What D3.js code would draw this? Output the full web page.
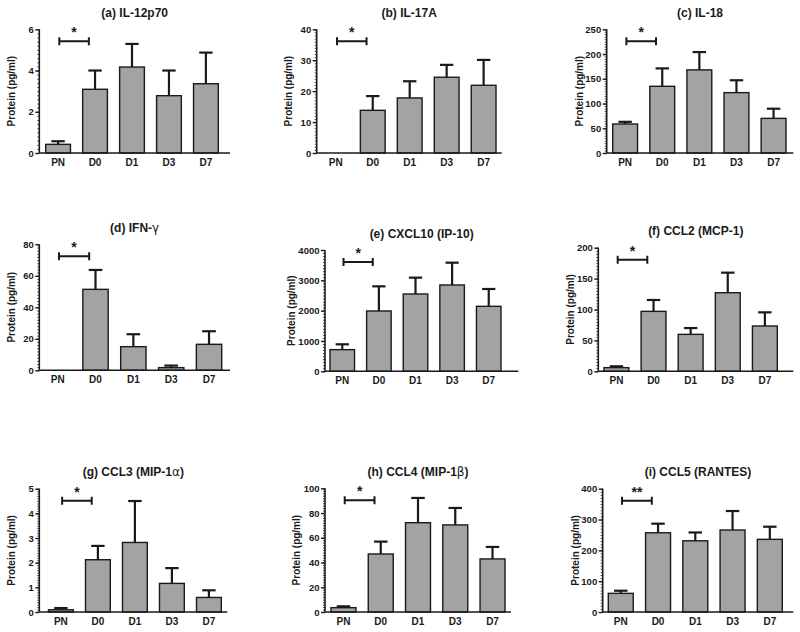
<!DOCTYPE html>
<html>
<head>
<meta charset="utf-8">
<script src="https://cdn.jsdelivr.net/npm/d3@7"></script>
<style>
  html, body { margin: 0; padding: 0; background: #fff; }
  svg { display: block; font-family: "Liberation Sans", Arial, sans-serif; }
</style>
</head>
<body>
<svg id="chart" width="800" height="632"></svg>
<script>
// ---- data ----
const categories = ["PN", "D0", "D1", "D3", "D7"];
const titles = ["(a) IL-12p70", "(b) IL-17A", "(c) IL-18",
                "(d) IFN-γ", "(e) CXCL10 (IP-10)", "(f) CCL2 (MCP-1)",
                "(g) CCL3 (MIP-1α)", "(h) CCL4 (MIP-1β)", "(i) CCL5 (RANTES)"];
const yLabel = "Protein (pg/ml)";

const meansA = [0.42, 3.09, 4.17, 2.78, 3.36];
const semA   = [0.15, 0.91, 1.12, 1.22, 1.51];
const meansB = [0, 13.8, 17.8, 24.5, 21.9];
const semB   = [0, 4.6, 5.4, 4.0, 8.2];
const meansC = [58.6, 134.8, 168, 122, 70];
const semC   = [4.4, 36.2, 36, 25, 19.5];
const meansD = [0, 51.4, 15, 1.7, 16.5];
const semD   = [0, 12.3, 7.9, 1.3, 8.3];
const meansE = [714, 1989, 2549, 2846, 2143];
const semE   = [176, 813, 539, 736, 571];
const meansF = [5.9, 97, 59.8, 127.2, 73.3];
const semF   = [2.2, 18.4, 10.2, 32.4, 22.1];
const meansG = [0.09, 2.12, 2.82, 1.16, 0.59];
const semG   = [0.07, 0.56, 1.68, 0.62, 0.29];
const meansH = [3.5, 46.9, 72.2, 70.4, 42.9];
const semH   = [1.1, 10, 20, 13.7, 9.7];
const meansI = [60.5, 257, 231, 266, 235.7];
const semI   = [8.5, 29.5, 27, 61.6, 41];

const yMax   = [6, 40, 250, 80, 4000, 200, 5, 100, 400];
const yStep  = [2, 10, 50, 20, 1000, 50, 1, 20, 100];
const signif = ["*", "*", "*", "*", "*", "*", "*", "*", "**"];

const allMeans = [meansA, meansB, meansC, meansD, meansE, meansF, meansG, meansH, meansI];
const allSem   = [semA, semB, semC, semD, semE, semF, semG, semH, semI];

// ---- layout (pixel boxes per panel) ----
const layout = [
  {x0: 39.3,  x1: 230,   bs: 45.7,  be: 218.3, yTop: 29.3,  y0: 153,   lab: 28},
  {x0: 316.7, x1: 501.7, bs: 323.4, be: 496,   yTop: 29.3,  y0: 153,   lab: 28.4},
  {x0: 606.7, x1: 793.3, bs: 612.7, be: 786,   yTop: 29.3,  y0: 153,   lab: 27.5},
  {x0: 39.3,  x1: 230,   bs: 45,    be: 221.7, yTop: 244.3, y0: 370.3, lab: 28},
  {x0: 325,   x1: 518.3, bs: 330,   be: 501,   yTop: 250,   y0: 371.3, lab: 33.5},
  {x0: 598.3, x1: 793.3, bs: 604,   be: 777.3, yTop: 247.7, y0: 371.3, lab: 28.3},
  {x0: 39.3,  x1: 227.3, bs: 48.5,  be: 221.3, yTop: 488.7, y0: 612,   lab: 28},
  {x0: 325,   x1: 511,   bs: 331,   be: 505,   yTop: 488.3, y0: 612,   lab: 28.3},
  {x0: 602.7, x1: 793.3, bs: 608.3, be: 782.3, yTop: 488.7, y0: 612,   lab: 27.7}
];

const svg = d3.select("#chart");
const barFill = "#a3a3a3";
const ink = "#1a1a1a";

function addTitle(g, text, x, y) {
  const t = g.append("text").attr("x", x).attr("y", y)
    .attr("text-anchor", "middle").attr("font-size", 12).attr("font-weight", "bold").attr("fill", ink);
  const parts = text.split(/([α-ω])/);
  parts.forEach(p => {
    if (!p) return;
    const s = t.append("tspan").text(p);
    if (/^[α-ω]$/.test(p)) s.attr("font-weight", "normal").attr("font-family", "DejaVu Sans, sans-serif").attr("font-size", 12);
  });
}

allMeans.forEach((means, i) => {
  const L = layout[i];
  const sem = allSem[i];
  const g = svg.append("g");

  const x = d3.scaleBand().domain(categories).range([L.bs, L.be]).paddingInner(0.33).paddingOuter(0);
  const y = d3.scaleLinear().domain([0, yMax[i]]).range([L.y0, L.yTop]);
  const bw = x.bandwidth();

  // bars
  categories.forEach((c, k) => {
    if (means[k] <= 0) return;
    g.append("rect")
      .attr("x", x(c)).attr("y", y(means[k]))
      .attr("width", bw).attr("height", y(0) - y(means[k]))
      .attr("fill", barFill).attr("stroke", ink).attr("stroke-width", 1.4);
    if (sem[k] > 0) {
      const cx = x(c) + bw / 2;
      const top = y(means[k] + sem[k]);
      g.append("line").attr("x1", cx).attr("x2", cx)
        .attr("y1", y(means[k])).attr("y2", top)
        .attr("stroke", ink).attr("stroke-width", 2.2);
      g.append("line").attr("x1", cx - bw * 0.27).attr("x2", cx + bw * 0.27)
        .attr("y1", top).attr("y2", top)
        .attr("stroke", ink).attr("stroke-width", 2.2);
    }
  });

  // y axis: minor ticks
  const minorVals = d3.range(0, yMax[i] + 1e-9, yStep[i] / 10);
  const majorVals = d3.range(0, yMax[i] + 1e-9, yStep[i]);
  const minorAx = g.append("g").attr("transform", `translate(${L.x0},0)`)
    .call(d3.axisLeft(y).tickValues(minorVals).tickSize(2).tickFormat(""));
  minorAx.select(".domain").remove();
  minorAx.selectAll("line").attr("stroke", ink).attr("stroke-width", 0.8);

  const majorAx = g.append("g").attr("transform", `translate(${L.x0},0)`)
    .call(d3.axisLeft(y).tickValues(majorVals).tickSize(4).tickPadding(1.5).tickFormat(d3.format("d")));
  majorAx.select(".domain").attr("stroke", ink).attr("stroke-width", 1.6)
    .attr("d", `M0,${L.yTop}V${L.y0}`);
  majorAx.selectAll("line").attr("stroke", ink).attr("stroke-width", 1.4);
  majorAx.selectAll("text").attr("font-size", 9.5).attr("font-weight", "bold")
    .attr("fill", ink).attr("font-family", "Liberation Sans, Arial, sans-serif");

  // x axis
  const xAx = g.append("g").attr("transform", `translate(0,${L.y0})`)
    .call(d3.axisBottom(x).tickSize(0).tickPadding(6));
  xAx.select(".domain").attr("stroke", ink).attr("stroke-width", 1.6)
    .attr("d", `M${L.x0},0H${L.x1}`);
  xAx.selectAll("text").attr("font-size", 10).attr("font-weight", "bold")
    .attr("fill", ink).attr("font-family", "Liberation Sans, Arial, sans-serif");

  // y label
  g.append("text")
    .attr("transform", `translate(${L.x0 - L.lab},${(L.yTop + L.y0) / 2}) rotate(-90)`)
    .attr("dy", "0.35em").attr("text-anchor", "middle")
    .attr("font-size", 10).attr("font-weight", "bold").attr("fill", ink)
    .text(yLabel);

  // title
  addTitle(g, titles[i], (L.x0 + L.x1) / 2, L.yTop - 12.3);

  // significance bracket PN vs D0
  const bx1 = x("PN") + bw * 0.55;
  const bx2 = x("D0") + bw * 0.25;
  const by = L.yTop + 12;
  g.append("path")
    .attr("d", `M${bx1},${by - 4}V${by + 4}M${bx1},${by}H${bx2}M${bx2},${by - 4}V${by + 4}`)
    .attr("fill", "none").attr("stroke", ink).attr("stroke-width", 2);
  g.append("text").attr("x", (bx1 + bx2) / 2).attr("y", L.yTop + 8)
    .attr("text-anchor", "middle").attr("font-size", 14).attr("font-weight", "bold").attr("fill", ink)
    .text(signif[i]);
});
</script>
</body>
</html>
